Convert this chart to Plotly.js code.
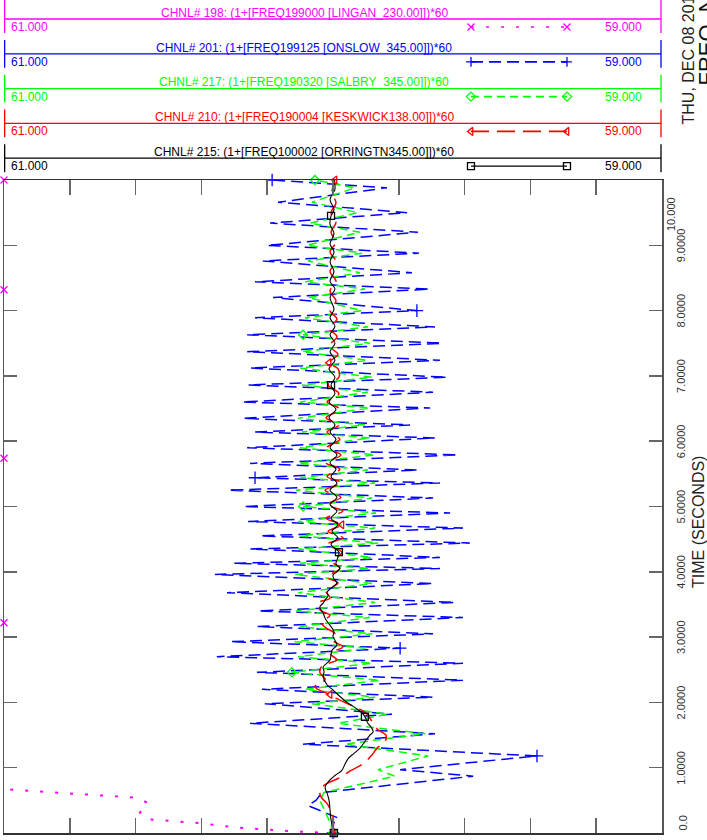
<!DOCTYPE html>
<html><head><meta charset="utf-8">
<script src="https://cdn.plot.ly/plotly-3.0.1.min.js"></script>
<style>html,body{margin:0;padding:0;background:#fff;}#chart{width:707px;height:840px;}</style>
</head><body><div id="chart"></div>
<script>
// ---- axis ticks ----
const TIME_TICKS = [0,1,2,3,4,5,6,7,8,9,10];
const TIME_LABELS = ["0.0","1.0000","2.0000","3.0000","4.0000","5.0000","6.0000","7.0000","8.0000","9.0000","10.000"];
const FREQ_TICKS = [59.0,59.2,59.4,59.6,59.8,60.0,60.2,60.4,60.6,60.8,61.0];
const FREQ_MIN = 59.0, FREQ_MAX = 61.0;

// ---- channel headers (top to bottom) ----
const CH_TITLES = [
  "CHNL# 198: (1+[FREQ199000 [LINGAN_230.00]])*60",
  "CHNL# 201: (1+[FREQ199125 [ONSLOW\u00a0\u00a0345.00]])*60",
  "CHNL# 217: (1+[FREQ190320 [SALBRY\u00a0\u00a0345.00]])*60",
  "CHNL# 210: (1+[FREQ190004 [KESKWICK138.00]])*60",
  "CHNL# 215: (1+[FREQ100002 [ORRINGTN345.00]])*60"
];
const CH_LEFT = ["61.000","61.000","61.000","61.000","61.000"];
const CH_RIGHT = ["59.000","59.000","59.000","59.000","59.000"];

// ---- CHNL 198 LINGAN (magenta) ----
const T_198 = [0, 0.02, 0.08, 0.15, 0.21, 0.31, 0.46, 0.54, 0.8, 1.5, 3.22, 5.74, 8.32, 10.0];
const F_198 = [60.000, 60.100, 60.286, 60.404, 60.562, 60.587, 60.562, 60.599, 61.392, 61.55, 61.62, 61.70, 61.74, 61.78];
const MK_198 = [0, 10, 11, 12, 13];

// ---- common sample times for CHNL 201 / 217 ----
const T_SAMPLE = [0, 0.12, 0.23, 0.42, 0.5, 0.62, 0.87, 0.97, 1.18, 1.36, 1.52, 1.68, 1.82, 1.98, 2.08, 2.2, 2.34, 2.46, 2.6, 2.7, 2.83, 2.93, 3.05, 3.16, 3.3, 3.4, 3.53, 3.68, 3.82, 3.96, 4.05, 4.13, 4.22, 4.35, 4.44, 4.55, 4.67, 4.77, 4.9, 5.0, 5.13, 5.25, 5.36, 5.44, 5.56, 5.66, 5.79, 5.9, 6.05, 6.14, 6.25, 6.35, 6.51, 6.6, 6.75, 6.86, 6.98, 7.12, 7.24, 7.37, 7.5, 7.63, 7.75, 7.89, 8.0, 8.2, 8.33, 8.44, 8.58, 8.76, 8.88, 9.0, 9.2, 9.34, 9.5, 9.66, 9.88, 10.0];

// ---- CHNL 201 ONSLOW (blue) ----
const F_201 = [60.000, 60.003, 59.985, 60.076, 60.052, 60.033, 59.574, 59.796, 59.380, 60.091,
  59.690, 60.252, 59.821, 60.207, 59.696, 60.216, 59.605, 60.231, 59.605, 60.353,
  59.796, 60.313, 59.696, 60.231, 59.605, 60.228, 59.629, 60.322, 59.696, 60.359,
  59.675, 60.301, 59.675, 60.252, 59.584, 60.222, 59.605, 60.258, 59.644, 60.274,
  59.696, 60.319, 59.675, 60.237, 59.742, 60.252, 59.620, 60.261, 59.690, 60.237,
  59.766, 60.274, 59.705, 60.277, 59.696, 60.258, 59.653, 60.252, 59.675, 60.261,
  59.669, 60.261, 59.690, 60.237, 59.745, 60.182, 59.705, 60.237, 59.760, 60.213,
  59.739, 60.201, 59.742, 60.191, 59.775, 60.167, 59.836, 60.185];
const MK_201 = [0, 8, 20, 43, 64, 77];

// ---- CHNL 217 SALBRY (green) ----
const F_217 = [60.000, 60.006, 60.015, 60.033, 60.040, 60.027, 59.812, 59.863, 59.711, 59.964,
  59.720, 59.985, 59.833, 60.064, 59.872, 60.085, 59.857, 60.125, 59.881, 60.106,
  59.894, 60.116, 59.881, 60.100, 59.888, 60.112, 59.872, 60.106, 59.881, 60.116,
  59.888, 60.100, 59.881, 60.106, 59.863, 60.100, 59.872, 60.106, 59.869, 60.091,
  59.881, 60.112, 59.872, 60.100, 59.894, 60.106, 59.872, 60.100, 59.888, 60.094,
  59.903, 60.106, 59.888, 60.100, 59.894, 60.094, 59.881, 60.100, 59.894, 60.094,
  59.888, 60.091, 59.894, 60.085, 59.912, 60.076, 59.903, 60.085, 59.918, 60.076,
  59.912, 60.079, 59.918, 60.070, 59.924, 60.064, 59.933, 60.055];
const MK_217 = [0, 17, 39, 61, 77];

// ---- CHNL 210 KESKWICK (red) ----
const T_210 = [0, 0.25, 0.45, 0.55, 0.65, 0.74, 0.85, 0.95, 1.07, 1.2, 1.3, 1.4, 1.5, 1.58, 1.68, 1.76, 1.85, 1.95, 2.05, 2.12,
  2.24, 2.35, 2.46, 2.56, 2.65, 2.75, 2.85, 2.95, 3.05, 3.15, 3.23, 3.33, 3.42, 3.52, 3.6, 3.7, 3.83, 3.92, 4.05, 4.15,
  4.3, 4.42, 4.52, 4.62, 4.72, 4.82, 4.93, 5.03, 5.14, 5.25, 5.36, 5.46, 5.57, 5.67, 5.79, 5.9, 6.03, 6.14, 6.25, 6.36,
  6.49, 6.6, 6.73, 6.86, 6.98, 7.11, 7.2, 7.33, 7.46, 7.6, 7.73, 7.87, 8.0, 8.15, 8.3, 8.45, 8.6, 8.75, 8.9, 9.05,
  9.2, 9.35, 9.5, 9.65, 9.8, 10.0];
const F_210 = [60.000, 60.000, 60.018, 60.036, 60.040, 60.024, 59.979, 59.948, 59.906, 59.881,
  59.866, 59.842, 59.839, 59.863, 59.878, 59.888, 59.903, 59.942, 59.985, 60.009,
  60.055, 60.024, 60.040, 60.033, 59.988, 60.009, 59.970, 60.000, 59.994, 60.024,
  60.036, 60.009, 60.040, 60.046, 60.009, 60.021, 59.985, 60.018, 59.979, 60.000,
  59.973, 60.018, 59.970, 60.015, 59.973, 60.021, 59.970, 60.018, 59.976, 60.024,
  59.973, 60.018, 59.979, 60.021, 59.976, 60.018, 59.979, 60.018, 59.982, 60.021,
  59.979, 60.018, 59.982, 60.015, 59.982, 59.985, 60.012, 59.985, 60.012, 59.988,
  60.012, 59.988, 60.009, 59.991, 60.009, 59.991, 60.009, 59.991, 60.009, 59.991,
  60.006, 59.991, 60.006, 59.991, 60.003, 59.994];
const MK_210 = [0, 19, 44, 66, 85];

// ---- CHNL 215 ORRINGTN (black) ----
const T_215 = [0, 0.2, 0.35, 0.5, 0.61, 0.7, 0.78, 0.88, 0.96, 1.05, 1.14, 1.22, 1.3, 1.4, 1.5, 1.55, 1.62, 1.68, 1.78, 1.84,
  1.92, 2.0, 2.09, 2.19, 2.27, 2.39, 2.47, 2.54, 2.65, 2.73, 2.8, 2.88, 2.95, 3.01, 3.08, 3.14, 3.22, 3.29, 3.37, 3.46,
  3.52, 3.57, 3.63, 3.69, 3.76, 3.83, 3.89, 3.95, 4.0, 4.06, 4.12, 4.18, 4.3, 4.42, 4.52, 4.62, 4.72, 4.82, 4.93, 5.03,
  5.14, 5.25, 5.36, 5.46, 5.57, 5.67, 5.79, 5.9, 6.03, 6.14, 6.25, 6.36, 6.49, 6.6, 6.73, 6.86, 6.98, 7.11, 7.24, 7.37,
  7.5, 7.63, 7.76, 7.89, 8.02, 8.2, 8.33, 8.45, 8.6, 8.75, 8.9, 9.02, 9.18, 9.32, 9.45, 9.55, 9.7, 9.86, 10.0];
const F_215 = [59.997, 60.006, 60.009, 60.012, 60.018, 60.024, 60.015, 59.994, 59.973, 59.964,
  59.954, 59.936, 59.918, 59.903, 59.888, 59.878, 59.884, 59.894, 59.903, 59.912,
  59.933, 59.957, 59.979, 60.000, 60.018, 60.030, 60.027, 60.030, 60.009, 60.006,
  60.003, 59.988, 59.994, 60.000, 59.997, 60.003, 60.015, 60.024, 60.030, 60.040,
  60.030, 60.024, 60.015, 60.018, 60.003, 59.988, 59.997, 60.000, 59.988, 59.979,
  59.991, 59.988, 59.982, 60.006, 59.985, 60.003, 59.985, 60.006, 59.988, 60.009,
  59.988, 60.009, 59.988, 60.006, 59.991, 60.009, 59.988, 60.009, 59.991, 60.009,
  59.994, 60.012, 59.991, 60.012, 59.994, 60.006, 59.994, 60.012, 59.994, 60.009,
  59.994, 60.009, 59.994, 60.009, 59.997, 60.009, 59.994, 60.009, 59.997, 60.009,
  59.997, 60.009, 59.997, 60.009, 60.006, 59.997, 60.009, 59.994, 59.997];
const MK_215 = [0, 18, 52, 75, 94];

// ---------------- drawing ----------------
const FONT = "Liberation Sans, Arial, sans-serif";
const COLORS = ["#ff00ff", "#0000ff", "#00ff00", "#ff0000", "#000000"];
const DASHES = ["3px,12px", "12px,6px", "8px,5px", "18px,8px", "solid"];
const SYMBOLS = ["x-thin-open", "cross-thin-open", "diamond-open", "triangle-left-open", "square-open"];
const WIDTHS = [2, 1.5, 1.5, 1.5, 1.1];

const series = [
  {t: T_198, f: F_198, mk: MK_198, row: 0},
  {t: T_SAMPLE, f: F_201, mk: MK_201, row: 1},
  {t: T_SAMPLE, f: F_217, mk: MK_217, row: 2},
  {t: T_210, f: F_210, mk: MK_210, row: 3},
  {t: T_215, f: F_215, mk: MK_215, row: 4}
];

const traces = [];
series.forEach(s => {
  traces.push({
    type: "scatter", mode: "lines", x: s.f, y: s.t, xaxis: "x", yaxis: "y",
    line: {color: COLORS[s.row], width: WIDTHS[s.row], dash: DASHES[s.row], shape: (s.row >= 3 ? "spline" : "linear")},
    hoverinfo: "skip"
  });
});
series.forEach(s => {
  // markers are drawn at the plot limit when the value is off scale
  const mx = s.mk.map(i => Math.min(FREQ_MAX, Math.max(FREQ_MIN, s.f[i])));
  const my = s.mk.map(i => s.t[i]);
  traces.push({
    type: "scatter", mode: "markers", x: mx, y: my, xaxis: "x", yaxis: "y", cliponaxis: false,
    marker: {symbol: SYMBOLS[s.row], size: (s.row === 1 ? 9 : 7), color: COLORS[s.row], line: {color: COLORS[s.row], width: 1.3}},
    hoverinfo: "skip"
  });
});

// header sample lines (legend keys), in header axes (x2: 0..1 across, y2: row index)
const KEY_X = [0.7097, 0.8556];
const KEY_DY = 0.23;
for (let r = 0; r < 5; r++) {
  traces.push({
    type: "scatter", mode: "lines+markers", x: KEY_X, y: [r + KEY_DY, r + KEY_DY], xaxis: "x2", yaxis: "y2",
    line: {color: COLORS[r], width: WIDTHS[r] > 1.5 ? 1.5 : WIDTHS[r] + 0.2, dash: DASHES[r]},
    marker: {symbol: SYMBOLS[r], size: 7, color: COLORS[r], line: {color: COLORS[r], width: 1.3}},
    cliponaxis: false, hoverinfo: "skip"
  });
}

const shapes = [];
const annotations = [];
const HX_R = 657 / 658;
for (let r = 0; r < 5; r++) {
  shapes.push({type: "line", xref: "x2", yref: "y2", x0: 0, x1: HX_R, y0: r, y1: r, line: {color: COLORS[r], width: 1.3}});
  const top = r === 0 ? -0.6 : r - 0.40;
  shapes.push({type: "line", xref: "x2", yref: "y2", x0: 0.001, x1: 0.001, y0: top, y1: r + 0.40, line: {color: COLORS[r], width: 1.3}});
  shapes.push({type: "line", xref: "x2", yref: "y2", x0: HX_R, x1: HX_R, y0: top, y1: r + 0.40, line: {color: COLORS[r], width: 1.3}});
  annotations.push({xref: "x2", yref: "y2", x: 0.456, y: r - 0.18, text: CH_TITLES[r], showarrow: false,
    xanchor: "center", yanchor: "middle", font: {family: FONT, size: 12, color: COLORS[r]}});
  annotations.push({xref: "x2", yref: "y2", x: 0.0076, y: r + KEY_DY, text: CH_LEFT[r], showarrow: false,
    xanchor: "left", yanchor: "middle", font: {family: FONT, size: 12, color: COLORS[r]}});
  annotations.push({xref: "x2", yref: "y2", x: 0.9726, y: r + KEY_DY, text: CH_RIGHT[r], showarrow: false,
    xanchor: "right", yanchor: "middle", font: {family: FONT, size: 12, color: COLORS[r]}});
}

const px = p => (p - 4) / 658;
const py = p => (833 - p) / 833;

// time tick labels (rotated, centred on the tick; the two end labels kept inside the frame)
TIME_TICKS.forEach((v, i) => {
  if (v === 10) {
    annotations.push({xref: "paper", yref: "paper", x: px(671), y: py(195), text: TIME_LABELS[i], showarrow: false,
      textangle: -90, xanchor: "center", yanchor: "top", font: {family: FONT, size: 11, color: "#333"}});
  } else if (v === 0) {
    annotations.push({xref: "paper", yref: "y", x: px(682), y: v, text: TIME_LABELS[i], showarrow: false,
      textangle: -90, xanchor: "center", yanchor: "bottom", font: {family: FONT, size: 11, color: "#333"}});
  } else {
    annotations.push({xref: "paper", yref: "y", x: px(681), y: v, text: TIME_LABELS[i], showarrow: false,
      textangle: -90, xanchor: "center", yanchor: "middle", font: {family: FONT, size: 11, color: "#333"}});
  }
});
annotations.push({xref: "paper", yref: "paper", x: px(698), y: py(522), text: "TIME (SECONDS)", showarrow: false,
  textangle: -90, xanchor: "center", yanchor: "middle", font: {family: FONT, size: 16, color: "#222"}});
annotations.push({xref: "paper", yref: "paper", x: px(688), y: py(127), text: "THU, DEC 08 2011", showarrow: false,
  textangle: -90, xanchor: "center", yanchor: "bottom", font: {family: FONT, size: 16, color: "#222"}});
annotations.push({xref: "paper", yref: "paper", x: px(692), y: py(88), text: "FREQ_NS", showarrow: false,
  textangle: -90, xanchor: "left", yanchor: "bottom", font: {family: FONT, size: 22, color: "#111"}});

const layout = {
  width: 707, height: 840,
  margin: {l: 4, r: 45, t: 0, b: 7, pad: 0},
  paper_bgcolor: "#fff", plot_bgcolor: "rgba(0,0,0,0)",
  showlegend: false, hovermode: false,
  font: {family: FONT},
  xaxis: {domain: [0, 1], anchor: "y", range: [FREQ_MAX, FREQ_MIN], tickvals: FREQ_TICKS, showticklabels: false,
    ticks: "inside", ticklen: 15, tickwidth: 1.5, tickcolor: "#666", showline: true, linecolor: "#333", linewidth: 1.5,
    mirror: "ticks", showgrid: false, zeroline: false},
  yaxis: {domain: [0, 653 / 833], anchor: "x", side: "right", range: [0, 10], tickvals: TIME_TICKS, showticklabels: false,
    ticks: "inside", ticklen: 13, tickwidth: 1.5, tickcolor: "#666", showline: true, linecolor: "#555", linewidth: 1.5,
    mirror: "ticks", showgrid: false, zeroline: false},
  xaxis2: {domain: [0, 1], anchor: "y2", range: [0, 1], visible: false},
  yaxis2: {domain: [653 / 833, 1], anchor: "x2", range: [4.626, -0.546], visible: false},
  shapes: shapes,
  annotations: annotations
};

Plotly.newPlot("chart", traces, layout, {staticPlot: true, displayModeBar: false});
</script></body></html>
